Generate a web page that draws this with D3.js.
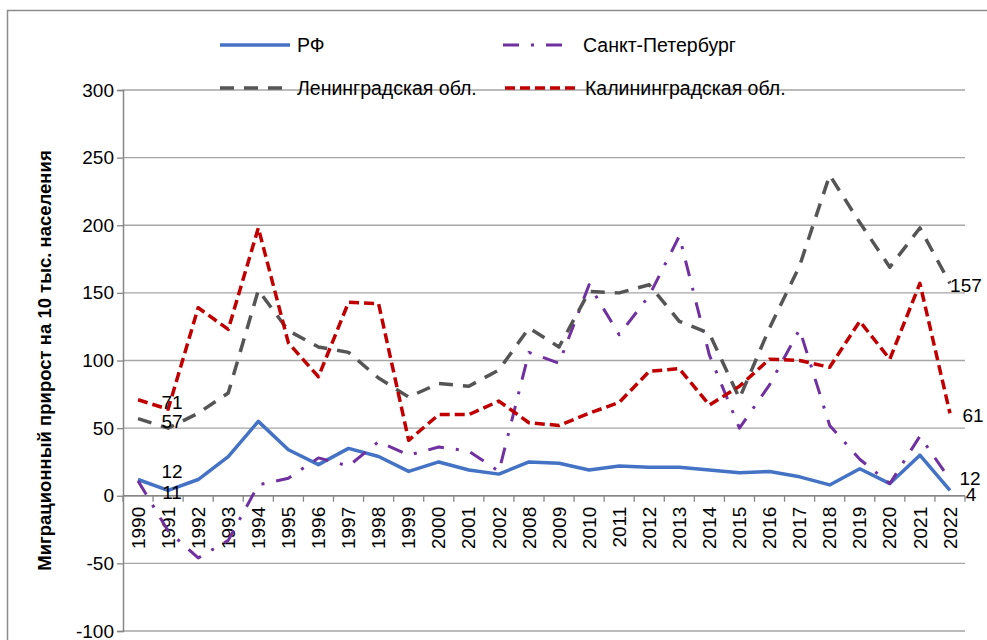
<!DOCTYPE html>
<html>
<head>
<meta charset="utf-8">
<script src="https://cdn.jsdelivr.net/npm/d3@7"></script>
<style>
  body { margin: 0; background: #fff; }
  svg text { font-family: "Liberation Sans", Arial, sans-serif; fill: #000; }
</style>
</head>
<body>
<svg id="chart" width="987" height="640"></svg>
<script>
// categories (years) - note the gap 2002 -> 2008
const years = ["1990", "1991", "1992", "1993", "1994", "1995", "1996", "1997", "1998", "1999",
  "2000", "2001", "2002", "2008", "2009", "2010", "2011", "2012", "2013", "2014",
  "2015", "2016", "2017", "2018", "2019", "2020", "2021", "2022"]

// migration growth per 10k population
const rf = [12, 4, 12, 29, 55, 34, 23, 35, 29, 18, 25, 19, 16, 25, 24, 19, 22, 21, 21, 19,
  17, 18, 14, 8, 20, 9, 30, 4]
const spb = [11, -26, -46, -33, 8, 13, 28, 22, 40, 30, 36, 33, 18, 106, 98, 156, 119, 148, 192, 104,
  50, 82, 123, 52, 27, 9, 44, 12]
const lenObl = [57, 50, 61, 76, 152, 122, 110, 106, 87, 73, 83, 81, 93, 124, 110, 151, 150, 156, 129, 120,
  72, 124, 170, 237, 202, 169, 198, 157]
const kalObl = [71, 64, 139, 123, 198, 113, 88, 143, 142, 41, 60, 60, 70, 54, 52, 61, 69, 92, 94, 67,
  81, 101, 100, 95, 129, 101, 157, 61]

const yTicks = [-100, -50, 0, 50, 100, 150, 200, 250, 300]

const series = [
  { name: "РФ", values: rf, color: "#4472C4", dash: null, width: 3.5 },
  { name: "Санкт-Петербург", values: spb, color: "#7030A0", dash: "16,12,3,12", width: 3 },
  { name: "Ленинградская обл.", values: lenObl, color: "#555555", dash: "14,10", width: 3.5 },
  { name: "Калининградская обл.", values: kalObl, color: "#C00000", dash: "10,5", width: 3.5 }
]

const svg = d3.select("#chart")
const plot = { left: 123, right: 965, top: 90, bottom: 631 }

const x = d3.scaleBand().domain(years).range([plot.left, plot.right]).padding(0)
const y = d3.scaleLinear().domain([-100, 300]).range([plot.bottom, plot.top])
const cx = (d) => x(d) + x.bandwidth() / 2

// outer chart frame
svg.append("path")
  .attr("d", "M7.5,640 V10.5 H987")
  .attr("fill", "none")
  .attr("stroke", "#8c8c8c")
  .attr("stroke-width", 1.5)

// gridlines
svg.append("g")
  .selectAll("line")
  .data(yTicks)
  .enter()
  .append("line")
  .attr("x1", plot.left)
  .attr("x2", plot.right)
  .attr("y1", (d) => y(d))
  .attr("y2", (d) => y(d))
  .attr("stroke", "#a6a6a6")
  .attr("stroke-width", 1.3)

// y axis (plain hyphen for negatives, like the source)
const yAxis = svg.append("g")
  .attr("transform", `translate(${plot.left},0)`)
  .call(d3.axisLeft(y).tickValues(yTicks).tickFormat((d) => String(d)).tickSize(6).tickPadding(3))
yAxis.select(".domain").attr("stroke", "#868686").attr("stroke-width", 1.5)
yAxis.selectAll(".tick line").attr("stroke", "#868686").attr("stroke-width", 1.3)
yAxis.selectAll("text")
  .style("font-family", "Liberation Sans, Arial, sans-serif")
  .style("font-size", "19px")
  .attr("fill", "#000")

// x axis on the zero line
const zeroY = y(0)
const xAxis = svg.append("g")
  .attr("transform", `translate(0,${zeroY})`)
  .call(d3.axisBottom(x).tickSize(0).tickPadding(0))
xAxis.select(".domain").remove()
xAxis.selectAll("text")
  .style("font-family", "Liberation Sans, Arial, sans-serif")
  .style("font-size", "19px")
  .attr("fill", "#000")
  .attr("text-anchor", "end")
  .attr("transform", "rotate(-90)")
  .attr("x", -11)
  .attr("y", 0)
  .attr("dy", "0.35em")

svg.append("line")
  .attr("x1", plot.left)
  .attr("x2", plot.right)
  .attr("y1", zeroY)
  .attr("y2", zeroY)
  .attr("stroke", "#868686")
  .attr("stroke-width", 1.5)

// category boundary ticks
const bounds = years.map((d) => x(d)).concat([plot.right])
svg.append("g")
  .selectAll("line")
  .data(bounds)
  .enter()
  .append("line")
  .attr("x1", (d) => d)
  .attr("x2", (d) => d)
  .attr("y1", zeroY)
  .attr("y2", zeroY + 6)
  .attr("stroke", "#868686")
  .attr("stroke-width", 1.3)

// y title
svg.append("text")
  .attr("transform", `translate(51,${(plot.top + plot.bottom) / 2}) rotate(-90)`)
  .attr("text-anchor", "middle")
  .style("font-size", "18.5px")
  .style("font-weight", "bold")
  .text("Миграционный прирост на 10 тыс. населения")

// lines
const line = d3.line()
  .x((d, i) => cx(years[i]))
  .y((d) => y(d))

svg.append("g")
  .selectAll("path")
  .data(series)
  .enter()
  .append("path")
  .attr("d", (s) => line(s.values))
  .attr("fill", "none")
  .attr("stroke", (s) => s.color)
  .attr("stroke-width", (s) => s.width)
  .attr("stroke-dasharray", (s) => s.dash)
  .attr("stroke-linejoin", "round")

// data labels at first and last year (offsets hand placed like in the source)
const labels = [
  { s: 3, i: 0, dx: 34, dy: 3 },
  { s: 2, i: 0, dx: 34, dy: 3 },
  { s: 0, i: 0, dx: 34, dy: -8 },
  { s: 1, i: 0, dx: 34, dy: 11 },
  { s: 2, i: 27, dx: 16, dy: 2 },
  { s: 3, i: 27, dx: 23, dy: 2 },
  { s: 1, i: 27, dx: 20, dy: -1 },
  { s: 0, i: 27, dx: 21, dy: 4 }
]
svg.append("g")
  .selectAll("text")
  .data(labels)
  .enter()
  .append("text")
  .attr("x", (d) => cx(years[d.i]) + d.dx)
  .attr("y", (d) => y(series[d.s].values[d.i]) + d.dy)
  .attr("dy", "0.35em")
  .attr("text-anchor", "middle")
  .style("font-size", "19px")
  .text((d) => series[d.s].values[d.i])

// legend, 2 x 2
const legendPos = [[220, 45], [503, 45], [220, 88], [505, 88]]
const legend = svg.append("g")
  .selectAll("g")
  .data(series)
  .enter()
  .append("g")
  .attr("transform", (d, i) => `translate(${legendPos[i][0]},${legendPos[i][1]})`)
legend.append("line")
  .attr("x1", 0)
  .attr("x2", 70)
  .attr("stroke", (s) => s.color)
  .attr("stroke-width", (s) => s.width)
  .attr("stroke-dasharray", (s) => s.dash)
legend.append("text")
  .attr("x", (d, i) => (i % 2 === 0 ? 77 : 80))
  .attr("dy", "0.35em")
  .style("font-size", "19.5px")
  .text((s) => s.name)
</script>
</body>
</html>
